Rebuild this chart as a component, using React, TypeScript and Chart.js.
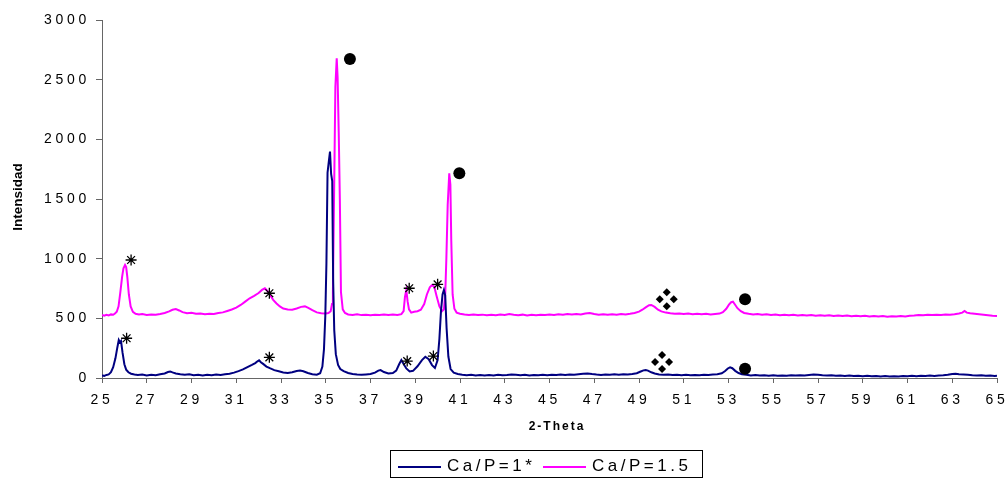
import React, { useEffect, useRef } from 'react';
import { Chart, registerables } from 'chart.js';

Chart.register(...registerables);

const FONT = "'Liberation Sans', Arial, sans-serif";

const seriesLabels = ['Ca/P=1*', 'Ca/P=1.5'];
const seriesColors = ['#000080', '#FF00FF'];
const xAxisTitle = '2-Theta';
const yAxisTitle = 'Intensidad';
const xMin = 25;
const xMax = 65;
const xStep = 2;
const yMin = 0;
const yMax = 3000;
const yStep = 500;

// [2-theta, intensity] for Ca/P = 1*
const caP1: [number, number][] = [
  [25.0, 22], [25.1, 18], [25.2, 26], [25.3, 30], [25.4, 48], [25.5, 90], [25.6, 165], [25.68, 250], [25.75, 318],
  [25.8, 300], [25.85, 310], [25.92, 210], [26.0, 115], [26.08, 70], [26.18, 48], [26.3, 36], [26.45, 30], [26.6, 25],
  [26.8, 29], [27.0, 22], [27.2, 27], [27.4, 24], [27.6, 31], [27.8, 38], [27.95, 50], [28.05, 55], [28.15, 47],
  [28.3, 38], [28.5, 32], [28.7, 27], [28.9, 31], [29.1, 24], [29.3, 28], [29.5, 22], [29.7, 27], [29.9, 24],
  [30.1, 29], [30.3, 26], [30.5, 31], [30.7, 36], [30.9, 45], [31.1, 58], [31.3, 72], [31.5, 92], [31.7, 110],
  [31.85, 125], [31.95, 140], [32.02, 148], [32.1, 132], [32.2, 118], [32.35, 96], [32.5, 82], [32.7, 66], [32.9, 56],
  [33.1, 46], [33.3, 42], [33.5, 48], [33.7, 58], [33.85, 62], [34.0, 57], [34.2, 42], [34.4, 31], [34.6, 28],
  [34.75, 40], [34.85, 95], [34.92, 240], [34.98, 520], [35.03, 960], [35.08, 1720], [35.14, 1820], [35.19, 1897],
  [35.24, 1710], [35.29, 1650], [35.33, 830], [35.38, 400], [35.45, 200], [35.55, 110], [35.65, 75], [35.8, 58],
  [36.0, 42], [36.2, 34], [36.4, 30], [36.6, 27], [36.8, 30], [37.0, 33], [37.2, 45], [37.35, 62], [37.45, 66],
  [37.6, 50], [37.8, 38], [38.0, 42], [38.15, 62], [38.28, 115], [38.38, 150], [38.48, 118], [38.6, 80], [38.75, 55],
  [38.9, 60], [39.1, 98], [39.3, 150], [39.45, 178], [39.6, 158], [39.75, 108], [39.88, 84], [40.0, 150], [40.08, 330],
  [40.15, 560], [40.22, 700], [40.28, 737], [40.34, 690], [40.4, 420], [40.48, 180], [40.58, 75], [40.72, 45],
  [40.9, 34], [41.1, 28], [41.3, 24], [41.5, 27], [41.7, 22], [41.9, 26], [42.1, 21], [42.3, 25], [42.5, 22],
  [42.7, 27], [42.9, 23], [43.1, 26], [43.3, 30], [43.5, 27], [43.7, 24], [43.9, 28], [44.1, 22], [44.3, 26],
  [44.5, 23], [44.7, 27], [44.9, 24], [45.1, 28], [45.3, 25], [45.5, 29], [45.7, 26], [45.9, 30], [46.1, 27],
  [46.3, 31], [46.5, 35], [46.7, 38], [46.9, 33], [47.1, 29], [47.3, 26], [47.5, 30], [47.7, 27], [47.9, 31],
  [48.1, 28], [48.3, 32], [48.5, 30], [48.7, 34], [48.9, 40], [49.05, 52], [49.2, 64], [49.3, 67], [49.4, 62],
  [49.55, 48], [49.7, 38], [49.9, 30], [50.1, 27], [50.3, 30], [50.5, 25], [50.7, 28], [50.9, 24], [51.1, 27],
  [51.3, 23], [51.5, 26], [51.7, 24], [51.9, 28], [52.1, 25], [52.3, 29], [52.5, 32], [52.7, 40], [52.85, 58],
  [52.97, 80], [53.07, 90], [53.17, 82], [53.3, 60], [53.45, 42], [53.6, 32], [53.8, 27], [54.0, 22], [54.2, 25],
  [54.4, 20], [54.6, 23], [54.8, 19], [55.0, 22], [55.2, 18], [55.4, 21], [55.6, 19], [55.8, 23], [56.0, 20],
  [56.2, 24], [56.4, 21], [56.6, 26], [56.8, 30], [57.0, 27], [57.2, 23], [57.4, 20], [57.6, 22], [57.8, 18],
  [58.0, 21], [58.2, 17], [58.4, 20], [58.6, 16], [58.8, 19], [59.0, 15], [59.2, 18], [59.4, 14], [59.6, 17],
  [59.8, 13], [60.0, 16], [60.2, 12], [60.4, 15], [60.6, 13], [60.8, 16], [61.0, 14], [61.2, 18], [61.4, 15],
  [61.6, 19], [61.8, 16], [62.0, 20], [62.2, 17], [62.4, 21], [62.6, 24], [62.8, 28], [63.0, 34], [63.15, 36],
  [63.3, 32], [63.5, 30], [63.7, 27], [63.9, 23], [64.1, 20], [64.3, 22], [64.5, 18], [64.7, 20], [64.9, 16], [65.0, 18],
];

// [2-theta, intensity] for Ca/P = 1.5
const caP15: [number, number][] = [
  [25.0, 528], [25.1, 522], [25.2, 530], [25.3, 525], [25.4, 533], [25.5, 530], [25.58, 540], [25.66, 555], [25.74, 600],
  [25.82, 720], [25.9, 850], [25.96, 920], [26.03, 947], [26.08, 930], [26.13, 850], [26.2, 700], [26.28, 600],
  [26.38, 555], [26.5, 538], [26.65, 532], [26.8, 536], [27.0, 528], [27.2, 533], [27.4, 530], [27.6, 537],
  [27.8, 545], [28.0, 558], [28.15, 572], [28.3, 578], [28.45, 566], [28.6, 552], [28.8, 542], [29.0, 546],
  [29.2, 538], [29.4, 541], [29.6, 535], [29.8, 539], [30.0, 536], [30.2, 545], [30.4, 550], [30.6, 562], [30.8, 574],
  [31.0, 590], [31.2, 612], [31.4, 640], [31.6, 668], [31.8, 688], [32.0, 712], [32.15, 738], [32.28, 752],
  [32.4, 728], [32.5, 700], [32.65, 655], [32.8, 625], [32.95, 600], [33.1, 582], [33.3, 574], [33.5, 572],
  [33.7, 582], [33.9, 596], [34.07, 600], [34.22, 588], [34.4, 568], [34.6, 550], [34.8, 543], [35.0, 540],
  [35.12, 545], [35.22, 560], [35.28, 620], [35.32, 720], [35.37, 1500], [35.43, 2440], [35.49, 2679], [35.53, 2520],
  [35.58, 2060], [35.63, 1500], [35.68, 720], [35.76, 575], [35.86, 545], [36.0, 532], [36.2, 528], [36.4, 534],
  [36.6, 527], [36.8, 531], [37.0, 526], [37.2, 530], [37.4, 528], [37.6, 533], [37.8, 527], [38.0, 532], [38.2, 528],
  [38.38, 535], [38.48, 560], [38.54, 680], [38.6, 737], [38.66, 640], [38.72, 575], [38.82, 548], [38.95, 555],
  [39.1, 560], [39.25, 572], [39.4, 620], [39.52, 700], [39.65, 760], [39.75, 779], [39.85, 765], [39.95, 690],
  [40.08, 600], [40.2, 560], [40.28, 575], [40.34, 700], [40.39, 1000], [40.45, 1450], [40.52, 1715], [40.57, 1620],
  [40.61, 1150], [40.67, 700], [40.75, 580], [40.85, 548], [41.0, 538], [41.2, 532], [41.4, 528], [41.6, 533],
  [41.8, 527], [42.0, 531], [42.2, 525], [42.4, 530], [42.6, 526], [42.8, 532], [43.0, 528], [43.2, 536], [43.4, 530],
  [43.6, 526], [43.8, 531], [44.0, 524], [44.2, 529], [44.4, 525], [44.6, 530], [44.8, 527], [45.0, 532], [45.2, 528],
  [45.4, 534], [45.6, 530], [45.8, 536], [46.0, 532], [46.2, 537], [46.4, 533], [46.6, 540], [46.8, 545], [47.0, 536],
  [47.2, 531], [47.4, 535], [47.6, 530], [47.8, 534], [48.0, 531], [48.2, 536], [48.4, 533], [48.6, 538], [48.8, 545],
  [49.0, 556], [49.15, 572], [49.3, 592], [49.45, 610], [49.55, 612], [49.7, 596], [49.85, 572], [50.0, 558],
  [50.2, 548], [50.4, 542], [50.6, 538], [50.8, 541], [51.0, 536], [51.2, 540], [51.4, 535], [51.6, 539], [51.8, 534],
  [52.0, 538], [52.2, 533], [52.4, 537], [52.6, 540], [52.75, 552], [52.9, 580], [53.02, 615], [53.12, 635],
  [53.2, 640], [53.28, 618], [53.4, 585], [53.55, 560], [53.7, 545], [53.9, 538], [54.1, 533], [54.3, 536],
  [54.5, 530], [54.7, 534], [54.9, 528], [55.1, 532], [55.3, 526], [55.5, 530], [55.7, 525], [55.9, 529], [56.1, 524],
  [56.3, 528], [56.5, 523], [56.7, 527], [56.9, 522], [57.1, 526], [57.3, 521], [57.5, 525], [57.7, 520], [57.9, 524],
  [58.1, 519], [58.3, 523], [58.5, 518], [58.7, 522], [58.9, 517], [59.1, 521], [59.3, 516], [59.5, 520], [59.7, 515],
  [59.9, 519], [60.1, 514], [60.3, 518], [60.5, 515], [60.7, 519], [60.9, 516], [61.1, 521], [61.3, 524], [61.5, 528],
  [61.7, 525], [61.9, 530], [62.1, 527], [62.3, 531], [62.5, 528], [62.7, 532], [62.9, 530], [63.1, 534], [63.3, 540],
  [63.45, 548], [63.55, 562], [63.65, 548], [63.8, 542], [64.0, 538], [64.2, 534], [64.4, 530], [64.6, 526],
  [64.8, 522], [65.0, 520],
];

// Phase markers, in data coordinates [2-theta, intensity]
const asteriskMarks: [number, number][] = [
  [26.3, 989], [32.48, 710], [38.73, 752], [40.0, 785],
  [26.1, 333], [32.48, 173], [38.64, 142], [39.81, 184],
];
const circleMarks: [number, number][] = [[36.08, 2673], [40.97, 1715], [53.74, 660], [53.74, 78]];
const diamondMarks: [number, number][] = [[50.24, 660], [50.03, 134]];

const decorPlugin = {
  id: 'decor',
  beforeDraw(chart: any) {
    chart.ctx.letterSpacing = '3.7px';
  },
  afterDatasetsDraw(chart: any) {
    const ctx = chart.ctx as CanvasRenderingContext2D;
    const xs = chart.scales.x;
    const ys = chart.scales.y;
    ctx.save();
    ctx.fillStyle = '#000';
    ctx.strokeStyle = '#000';
    ctx.lineWidth = 1.3;
    asteriskMarks.forEach(([tx, ty]) => {
      const cx = xs.getPixelForValue(tx);
      const cy = ys.getPixelForValue(ty);
      const r = 5.5;
      ctx.beginPath();
      for (let k = 0; k < 4; k++) {
        const a = (k * Math.PI) / 4;
        ctx.moveTo(cx - r * Math.cos(a), cy - r * Math.sin(a));
        ctx.lineTo(cx + r * Math.cos(a), cy + r * Math.sin(a));
      }
      ctx.stroke();
    });
    circleMarks.forEach(([tx, ty]) => {
      const cx = xs.getPixelForValue(tx);
      const cy = ys.getPixelForValue(ty);
      ctx.beginPath();
      ctx.arc(cx, cy, 6, 0, Math.PI * 2);
      ctx.fill();
    });
    diamondMarks.forEach(([tx, ty]) => {
      const cx = xs.getPixelForValue(tx);
      const cy = ys.getPixelForValue(ty);
      const offs = [[0, -7], [-7, 0], [7, 0], [0, 7]];
      const h = 4;
      offs.forEach(([dx, dy]) => {
        const px = cx + dx;
        const py = cy + dy;
        ctx.beginPath();
        ctx.moveTo(px, py - h);
        ctx.lineTo(px + h, py);
        ctx.lineTo(px, py + h);
        ctx.lineTo(px - h, py);
        ctx.closePath();
        ctx.fill();
      });
    });
    ctx.restore();
  },
  afterDraw(chart: any) {
    const ctx = chart.ctx as CanvasRenderingContext2D;
    ctx.save();
    ctx.fillStyle = '#000';
    ctx.letterSpacing = '2px';
    ctx.font = `bold 12px ${FONT}`;
    ctx.textAlign = 'center';
    ctx.textBaseline = 'middle';
    ctx.fillText(xAxisTitle, 557, 427);
    ctx.letterSpacing = '0px';
    ctx.font = `bold 13.5px ${FONT}`;
    ctx.translate(18, 197);
    ctx.rotate(-Math.PI / 2);
    ctx.fillText(yAxisTitle, 0, 0);
    ctx.restore();

    ctx.save();
    ctx.letterSpacing = '0px';
    ctx.strokeStyle = '#000';
    ctx.lineWidth = 1;
    ctx.strokeRect(390.5, 450.5, 312, 27);
    const starts = [398, 543];
    chart.data.datasets.forEach((ds: any, i: number) => {
      ctx.strokeStyle = ds.borderColor;
      ctx.lineWidth = 2;
      ctx.beginPath();
      ctx.moveTo(starts[i], 467);
      ctx.lineTo(starts[i] + 43, 467);
      ctx.stroke();
      ctx.fillStyle = '#000';
      ctx.font = `17px ${FONT}`;
      ctx.letterSpacing = '3.5px';
      ctx.textAlign = 'left';
      ctx.textBaseline = 'middle';
      ctx.fillText(ds.label, starts[i] + 49, 466);
    });
    ctx.restore();
    ctx.letterSpacing = '0px';
  },
};

export default function App() {
  const ref = useRef<HTMLCanvasElement>(null);
  useEffect(() => {
    const chart = new Chart(ref.current as HTMLCanvasElement, {
      type: 'line',
      data: {
        datasets: [
          {
            label: seriesLabels[0],
            data: caP1.map(([x, y]) => ({ x, y })),
            borderColor: seriesColors[0],
            backgroundColor: seriesColors[0],
            borderWidth: 2,
            pointRadius: 0,
            tension: 0,
          },
          {
            label: seriesLabels[1],
            data: caP15.map(([x, y]) => ({ x, y })),
            borderColor: seriesColors[1],
            backgroundColor: seriesColors[1],
            borderWidth: 2,
            pointRadius: 0,
            tension: 0,
          },
        ],
      },
      options: {
        responsive: false,
        devicePixelRatio: 1,
        animation: false,
        layout: { padding: { left: 0, right: 8, top: 20, bottom: 29 } },
        plugins: { legend: { display: false }, tooltip: { enabled: false } },
        scales: {
          x: {
            type: 'linear',
            min: xMin,
            max: xMax,
            ticks: {
              stepSize: xStep,
              autoSkip: false,
              maxRotation: 0,
              padding: 9,
              color: '#000',
              font: { family: FONT, size: 14 },
              callback: (v: any) => String(v),
            },
            grid: { display: true, drawOnChartArea: false, tickLength: 5, color: '#666' },
            border: { display: true, color: '#666', width: 1 },
            afterFit: (axis: any) => {
              axis.height = 72;
              axis.paddingLeft = 0;
              axis.paddingRight = 0;
            },
          },
          y: {
            type: 'linear',
            min: yMin,
            max: yMax,
            ticks: {
              stepSize: yStep,
              padding: 6,
              color: '#000',
              font: { family: FONT, size: 14 },
              callback: (v: any) => String(v),
            },
            grid: { display: true, drawOnChartArea: false, tickLength: 6, color: '#666' },
            border: { display: true, color: '#666', width: 1 },
            afterFit: (axis: any) => {
              axis.width = 102;
              axis.paddingTop = 0;
              axis.paddingBottom = 0;
            },
          },
        },
      },
      plugins: [decorPlugin],
    });
    return () => chart.destroy();
  }, []);
  return (
    <div style={{ position: 'fixed', left: 0, top: 0, width: 1005, height: 479, background: '#fff' }}>
      <canvas ref={ref} width={1005} height={479} style={{ display: 'block' }} />
    </div>
  );
}
